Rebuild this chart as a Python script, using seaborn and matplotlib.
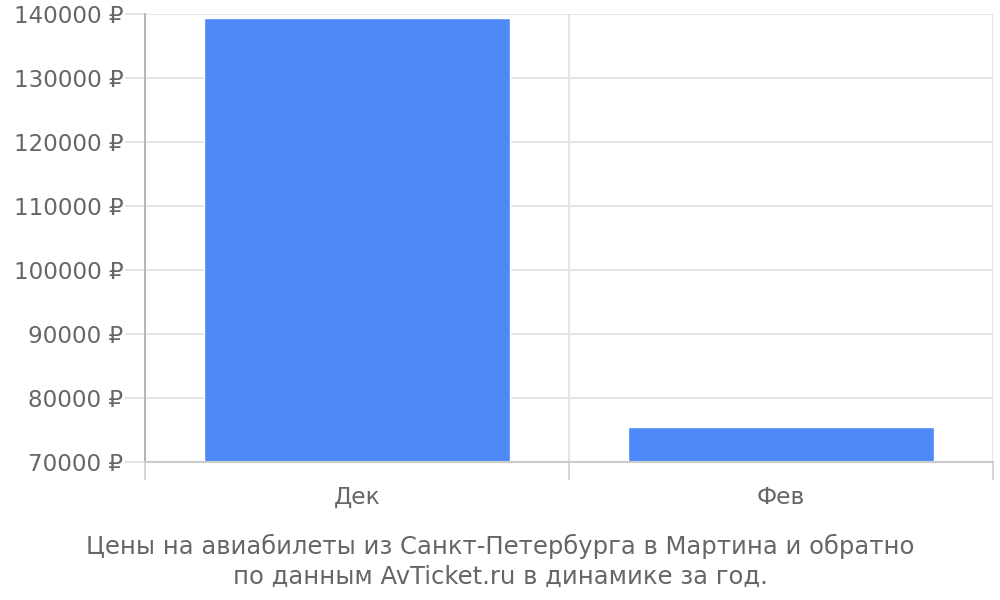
import matplotlib
matplotlib.use("Agg")
import matplotlib.pyplot as plt
import seaborn as sns
import pandas as pd
from matplotlib.ticker import FuncFormatter, FixedLocator

months = ["Дек", "Фев"]
prices = [139350, 75420]
y_ticks = [70000, 80000, 90000, 100000, 110000, 120000, 130000, 140000]
caption = "Цены на авиабилеты из Санкт-Петербурга в Мартина и обратно\nпо данным AvTicket.ru в динамике за год."

df = pd.DataFrame({"month": months, "price": prices})

sns.set_style("white")
plt.rcParams['font.family'] = ['DejaVu Sans']

fig = plt.figure(figsize=(10, 6), dpi=100)
ax = fig.add_axes([0.145, 0.23, 0.848, 0.7467])

sns.barplot(data=df, x="month", y="price", ax=ax, color="#4e89fa", width=0.72,
            saturation=1, zorder=3)

ax.set_ylim(70000, 140000)
ax.set_xlim(-0.5, 1.5)
ax.set_yticks(y_ticks)
ax.yaxis.set_major_formatter(FuncFormatter(lambda v, p: f"{int(v)} ₽"))
ax.grid(axis="y", color="#e0e0e0", linewidth=1.2, zorder=0)

ax.xaxis.set_minor_locator(FixedLocator([-0.5, 0.5, 1.5]))
ax.grid(axis="x", which="minor", color="#e0e0e0", linewidth=1.2, zorder=0)
ax.tick_params(axis="x", which="both", bottom=True)
ax.tick_params(axis="y", left=True)
ax.tick_params(axis="x", which="major", length=0, pad=17, labelsize=16.8, labelcolor="#666666")
ax.tick_params(axis="x", which="minor", length=13, color="#cccccc", width=1.2)
ax.tick_params(axis="y", length=14.5, color="#e0e0e0", width=1.2, pad=1, labelsize=16.6, labelcolor="#666666")

for side in ["top", "right"]:
    ax.spines[side].set_visible(False)
ax.spines["left"].set_color("#aaaaaa")
ax.spines["bottom"].set_color("#cccccc")
ax.spines["bottom"].set_zorder(4)
ax.spines["left"].set_linewidth(1.2)
ax.spines["bottom"].set_linewidth(1.5)

ax.set_xlabel("")
ax.set_ylabel("")

fig.text(0.5, 0.065, caption, ha="center", va="center", fontsize=17.5, color="#666666",
         linespacing=1.3)

fig.savefig("out.png", dpi=100)
